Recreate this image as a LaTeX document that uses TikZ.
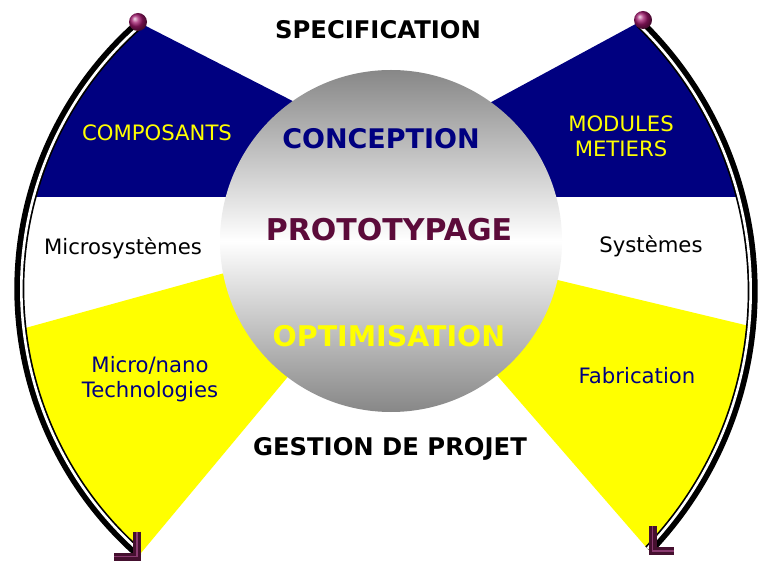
\documentclass[tikz,border=0pt]{standalone}
\usepackage{fontspec}
\setmainfont{DejaVu Sans}
\usepackage{xcolor}
\usepackage{tikz}
\usetikzlibrary{calc}
\definecolor{navyblue}{HTML}{000080}
\definecolor{lemon}   {HTML}{FFFF00}
\definecolor{wine}    {HTML}{5C0B3A}
\definecolor{knobcol} {HTML}{A0186C}
\definecolor{chevcol} {HTML}{45102F}
\definecolor{chevlite}{HTML}{8A3A70}

\begin{document}
\begin{tikzpicture}[x=1pt,y=1pt,
        disk/.style={circle,minimum size=342pt,inner sep=0pt,
                     top color=black!47,bottom color=black!47,middle color=white},
        knob/.style={circle,minimum size=18pt,inner sep=0pt,ball color=knobcol},
        rimblack/.style={black,line width=10pt},
        rimwhite/.style={white,line width=2.6pt},
        chev/.style={draw=chevcol,line width=3.4pt,double=chevlite,double distance=1.2pt},
        big/.style={font=\fontsize{#1}{#1}\selectfont\bfseries,anchor=base},
        head/.style={font=\fontsize{24.3}{26}\selectfont\bfseries,anchor=base},
        side/.style={font=\fontsize{21.2}{25}\selectfont,anchor=base,align=center}]
        \fill[white] (0,0) rectangle (760,560);
        \useasboundingbox (0,0) rectangle (760,560);
        \coordinate (cL) at (371.6,271.2);
        \coordinate (cR) at (378,269);
        \coordinate (topL) at (138,538);
        \coordinate (topR) at (643,540);
        \coordinate (tipL) at (137,3.5);
        \coordinate (tipR) at (652.5,9);
        % coloured sectors
        \begin{scope}
          \clip (cL) circle[radius=352];
          \fill[navyblue] (topL) -- (320,445) -- (320,363) -- (0,363) -- (0,538) -- cycle;
          \fill[lemon] (0,225) -- (250,294) -- (306,205) -- (141,7) -- (141,-10) -- (0,-10) -- cycle;
        \end{scope}
        \begin{scope}
          \clip (cR) circle[radius=374];
          \fill[navyblue] (topR) -- (460,441) -- (460,363) -- (770,363) -- (770,560) -- cycle;
          \fill[lemon] (520,289) -- (770,229) -- (770,-10) -- (666,-10) -- (475,210) -- cycle;
        \end{scope}
        \node[disk] (proto) at (391,319) {};
        % side arcs
        \draw[rimblack] (cL) ++(131.2:352.3) arc[start angle=131.2,end angle=228.2,radius=352.3];
        \draw[rimwhite] (cL) ++(131.2:350.3) arc[start angle=131.2,end angle=228.2,radius=350.3];
        \draw[rimblack] (cR) ++(45.6:374.7) arc[start angle=45.6,end angle=-43.7,radius=374.7];
        \draw[rimwhite] (cR) ++(45.6:372.7) arc[start angle=45.6,end angle=-43.7,radius=372.7];
        \draw[chev] ($(tipL)+(0,25)$) -- (tipL) -- ($(tipL)+(-23,0)$);
        \draw[chev] ($(tipR)+(0,25)$) -- (tipR) -- ($(tipR)+(21,0)$);
        \node[knob] (pinL) at (topL) {};
        \node[knob] (pinR) at (topR) {};
        % labels
        \node[head] (spec) at (378,521) {SPECIFICATION};
        \node[big=27,navyblue] (conc) at (381,411) {CONCEPTION};
        \node[big=30,wine] (prot) at (389,319) {PROTOTYPAGE};
        \node[big=28.5,lemon] (opti) at (389,213) {OPTIMISATION};
        \node[head] (gest) at (390,105) {GESTION DE PROJET};
        \node[side,lemon] (comp) at (157,419) {COMPOSANTS};
        \node[side] (msys) at (123,305) {Microsystèmes};
        \node[side,navyblue] (tech) at (150,163) {Micro/nano\\Technologies};
        \node[side,lemon] (modu) at (621,403) {MODULES\\METIERS};
        \node[side] (syst) at (651,307) {Systèmes};
        \node[side,navyblue] (fabr) at (637,176) {Fabrication};
\end{tikzpicture}
\end{document}
